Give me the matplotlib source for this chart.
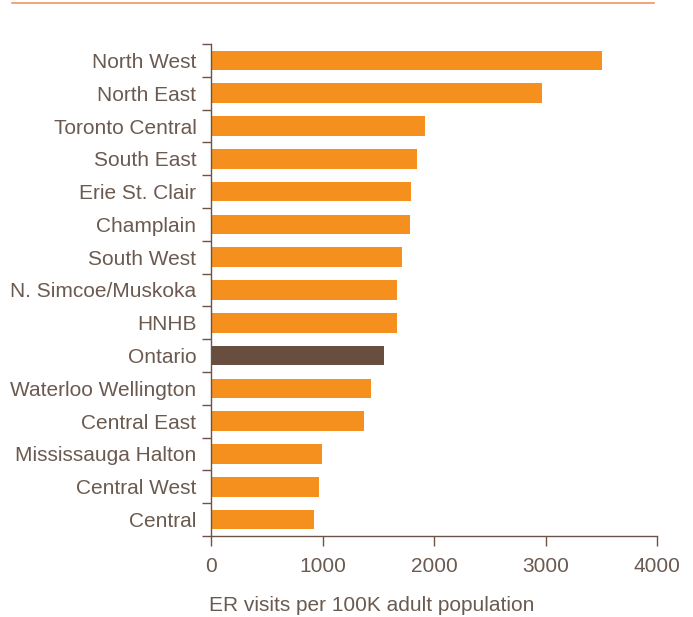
import matplotlib.pyplot as plt
from matplotlib.lines import Line2D
import numpy as np

plt.rcParams['font.family'] = ['Liberation Sans', 'DejaVu Sans']

# ER visits per 100K adult population, by LHIN (top to bottom)
regions = [
    'North West', 'North East', 'Toronto Central', 'South East', 'Erie St. Clair',
    'Champlain', 'South West', 'N. Simcoe/Muskoka', 'HNHB', 'Ontario',
    'Waterloo Wellington', 'Central East', 'Mississauga Halton', 'Central West', 'Central'
]
visits = [3510, 2965, 1919, 1845, 1794, 1785, 1713, 1668, 1668, 1549,
          1432, 1372, 996, 969, 924]

orange = '#F5901F'
brown = '#674E3E'
text_col = '#6B5A50'
axis_col = '#6B5447'

colors = [brown if r == 'Ontario' else orange for r in regions]

fig = plt.figure(figsize=(6.93, 6.17), dpi=100)
ax = fig.add_axes([211 / 693, 1 - 536 / 617, 446 / 693, 492 / 617])

ypos = np.arange(len(regions))
ax.barh(ypos, visits, height=0.6, color=colors, zorder=2)

ax.set_ylim(len(regions) - 0.5, -0.5)
ax.set_xlim(0, 4000)

# category labels at bar centres, tick marks between the bars
ax.set_yticks(ypos)
ax.set_yticklabels(regions, fontsize=15, color=text_col)
ax.set_yticks(np.arange(len(regions) + 1) - 0.5, minor=True)
ax.tick_params(axis='y', which='major', length=0, pad=10.5)
ax.tick_params(axis='y', which='minor', length=6.5, width=1, color=axis_col, direction='out')

ax.set_xticks([0, 1000, 2000, 3000, 4000])
ax.tick_params(axis='x', length=7, width=1, color=axis_col, labelsize=15,
               labelcolor=text_col, pad=8)

for side in ['top', 'right']:
    ax.spines[side].set_visible(False)
for side in ['left', 'bottom']:
    ax.spines[side].set_color(axis_col)
    ax.spines[side].set_linewidth(1)

ax.set_xlabel('ER visits per 100K adult population', fontsize=15, color=text_col,
              ha='center', va='center')
ax.xaxis.set_label_coords(0.361, -0.142)

# thin rule across the top of the figure
fig.add_artist(Line2D([12 / 693, 654 / 693], [1 - 3.3 / 617, 1 - 3.3 / 617],
                      color='#F08A4B', linewidth=1.1, transform=fig.transFigure))

fig.savefig('out.png', dpi=100)
